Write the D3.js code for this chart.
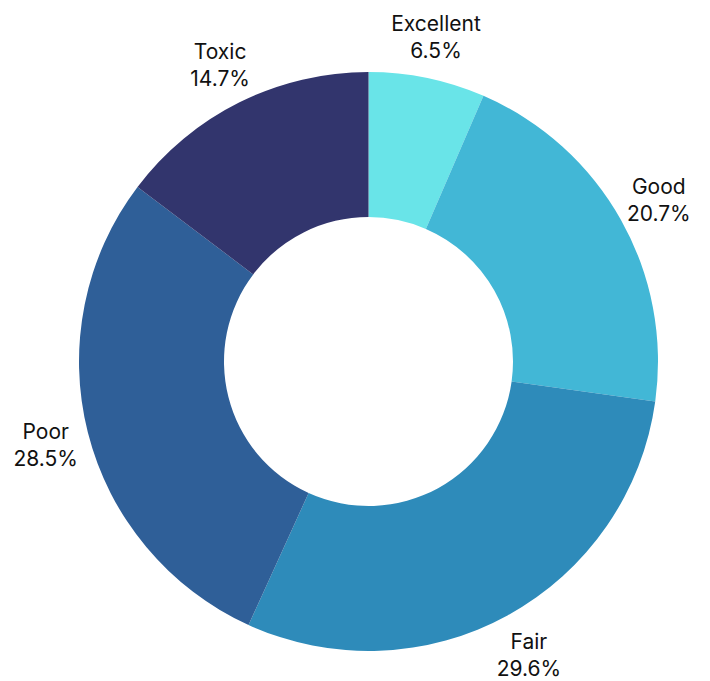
<!DOCTYPE html>
<html>
<head>
<meta charset="utf-8">
<script src="https://cdn.jsdelivr.net/npm/d3@7"></script>
<style>
  html, body { margin: 0; padding: 0; background: #ffffff; }
  svg { display: block; }
  text { font-family: Inter, "Open Sans", sans-serif; font-size: 21px; fill: #111111; }
</style>
</head>
<body>
<svg id="chart" width="710" height="681"></svg>
<script>
// Water quality categories and their share (%)
const categories = ["Excellent", "Good", "Fair", "Poor", "Toxic"];
const shares = [6.5, 20.7, 29.6, 28.5, 14.7];
const colors = ["#69e4e8", "#42b7d6", "#2e8bba", "#2f5f98", "#32356d"];

const width = 710, height = 681;
const cx = 368.5, cy = 361.5;
const outerR = 289.5, innerR = 144.5, labelR = 333;

const data = categories.map((c, i) => ({ name: c, value: shares[i], color: colors[i] }));

const svg = d3.select("#chart");
const g = svg.append("g").attr("transform", `translate(${cx},${cy})`);

const pie = d3.pie().value(d => d.value).sort(null);
const arc = d3.arc().innerRadius(innerR).outerRadius(outerR);
const labelArc = d3.arc().innerRadius(labelR).outerRadius(labelR);

const arcs = pie(data);

g.selectAll("path.slice")
  .data(arcs)
  .join("path")
  .attr("class", "slice")
  .attr("d", arc)
  .attr("fill", d => d.data.color);

const labels = g.selectAll("g.label")
  .data(arcs)
  .join("g")
  .attr("class", "label")
  .attr("transform", d => `translate(${labelArc.centroid(d)})`);

labels.append("text")
  .attr("text-anchor", "middle")
  .attr("y", -4.5)
  .text(d => d.data.name);

labels.append("text")
  .attr("text-anchor", "middle")
  .attr("y", 22.5)
  .text(d => d.data.value.toFixed(1) + "%");
</script>
</body>
</html>
